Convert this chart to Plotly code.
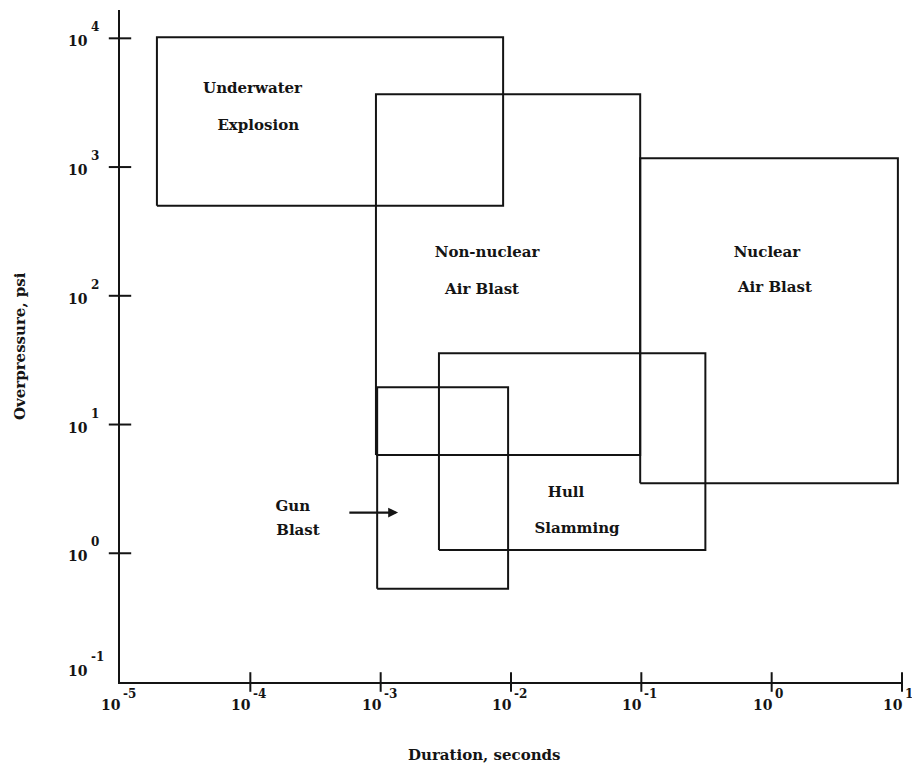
import numpy as np
import plotly.graph_objects as go

# ---- data -------------------------------------------------------------
regions = ["Underwater Explosion", "Non-nuclear Air Blast", "Nuclear Air Blast",
           "Hull Slamming", "Gun Blast"]
dur_min = [1.92e-5, 9.2e-4, 0.098, 2.8e-3, 9.4e-4]     # seconds
dur_max = [8.7e-3, 0.098, 9.3, 0.31, 9.5e-3]
psi_min = [500, 5.8, 3.5, 1.06, 0.53]                  # psi
psi_max = [1.02e4, 3670, 1170, 35.8, 19.5]

label_text = ["Underwater", "Explosion", "Non-nuclear", "Air Blast",
              "Nuclear", "Air Blast", "Hull", "Slamming", "Gun", "Blast"]
label_dur = [1.04e-4, 1.15e-4, 6.55e-3, 6.0e-3, 0.92, 1.06, 0.0264, 0.0321,
             2.12e-4, 2.32e-4]
label_psi = [4020, 2075, 214, 110, 214, 115, 2.93, 1.54, 2.28, 1.49]

arrow_from = (5.6e-4, 2.07)
arrow_to = (1.36e-3, 2.07)

x_tick_exp = [-5, -4, -3, -2, -1, 0, 1]
y_tick_exp = [-1, 0, 1, 2, 3, 4]

x_title = "Duration, seconds"
y_title = "Overpressure, psi"

# ---- styling ----------------------------------------------------------
INK = "#141414"
FONT = "DejaVu Serif"

fig = go.Figure()

for i in range(len(regions)):
    xs = [dur_min[i], dur_max[i], dur_max[i], dur_min[i], dur_min[i]]
    ys = [psi_min[i], psi_min[i], psi_max[i], psi_max[i], psi_min[i]]
    fig.add_trace(go.Scatter(x=xs, y=ys, mode="lines", name=regions[i],
                             line=dict(color=INK, width=2), hoverinfo="skip",
                             showlegend=False))

fig.add_trace(go.Scatter(x=label_dur, y=label_psi, mode="text", text=label_text,
                         textposition="middle center",
                         textfont=dict(family=FONT, size=15, color=INK, weight="bold"),
                         showlegend=False, hoverinfo="skip"))

# crossing tick marks
xt = [10.0 ** e for e in x_tick_exp if e != x_tick_exp[0]]
fig.add_trace(go.Scatter(x=xt, y=[10.0 ** y_tick_exp[0]] * len(xt), mode="markers",
                         marker=dict(symbol="line-ns", size=14,
                                     line=dict(color=INK, width=2)),
                         cliponaxis=False, showlegend=False, hoverinfo="skip"))
yt = [10.0 ** e for e in y_tick_exp if e != y_tick_exp[0]]
fig.add_trace(go.Scatter(x=[10.0 ** x_tick_exp[0]] * len(yt), y=yt, mode="markers",
                         marker=dict(symbol="line-ew", size=16,
                                     line=dict(color=INK, width=2)),
                         cliponaxis=False, showlegend=False, hoverinfo="skip"))

TICKF = dict(family=FONT, size=14, color=INK, weight="bold")
SUPF = dict(family=FONT, size=12, color=INK, weight="bold")

ann = []
for e in x_tick_exp:
    ann.append(dict(x=e, xref="x", y=0, yref="paper", text="10", showarrow=False,
                    xanchor="right", yanchor="middle", xshift=3, yshift=-23,
                    font=TICKF))
    ann.append(dict(x=e, xref="x", y=0, yref="paper", text=str(e),
                    showarrow=False, xanchor="left", yanchor="middle", xshift=1, yshift=-12,
                    font=SUPF))
for e in y_tick_exp:
    lift = 14 if e == y_tick_exp[0] else 0
    ann.append(dict(x=0, xref="paper", y=e, yref="y", text="10", showarrow=False,
                    xanchor="right", yanchor="middle", xshift=-30, yshift=-3 + lift,
                    font=TICKF))
    ann.append(dict(x=0, xref="paper", y=e, yref="y", text=str(e),
                    showarrow=False, xanchor="left", yanchor="middle", xshift=-31, yshift=11 + lift,
                    font=SUPF))

ann.append(dict(x=np.log10(arrow_to[0]), y=np.log10(arrow_to[1]), xref="x", yref="y",
                ax=np.log10(arrow_from[0]), ay=np.log10(arrow_from[1]), axref="x", ayref="y",
                text="", showarrow=True, arrowhead=2, arrowsize=0.9, arrowwidth=2.2,
                arrowcolor=INK))

ann.append(dict(x=0.465, xref="paper", y=0, yref="paper", text=x_title, showarrow=False,
                xanchor="center", yanchor="middle", yshift=-73,
                font=dict(family=FONT, size=15, color=INK, weight="bold")))
ann.append(dict(x=0, xref="paper", y=0.50, yref="paper", text=y_title, showarrow=False,
                textangle=-90, xanchor="center", yanchor="middle", xshift=-100,
                font=dict(family=FONT, size=15, color=INK, weight="bold")))

fig.update_layout(
    width=912, height=767,
    margin=dict(l=120, r=10, t=10, b=85),
    paper_bgcolor="white", plot_bgcolor="white",
    annotations=ann,
    xaxis=dict(type="log", range=[-5, 1], showgrid=False, zeroline=False,
               showticklabels=False, ticks="", showline=True, linewidth=2,
               linecolor=INK, mirror=False),
    yaxis=dict(type="log", range=[-1, 4.22], showgrid=False, zeroline=False,
               showticklabels=False, ticks="", showline=True, linewidth=2,
               linecolor=INK, mirror=False),
)

fig.write_html("out.html")
